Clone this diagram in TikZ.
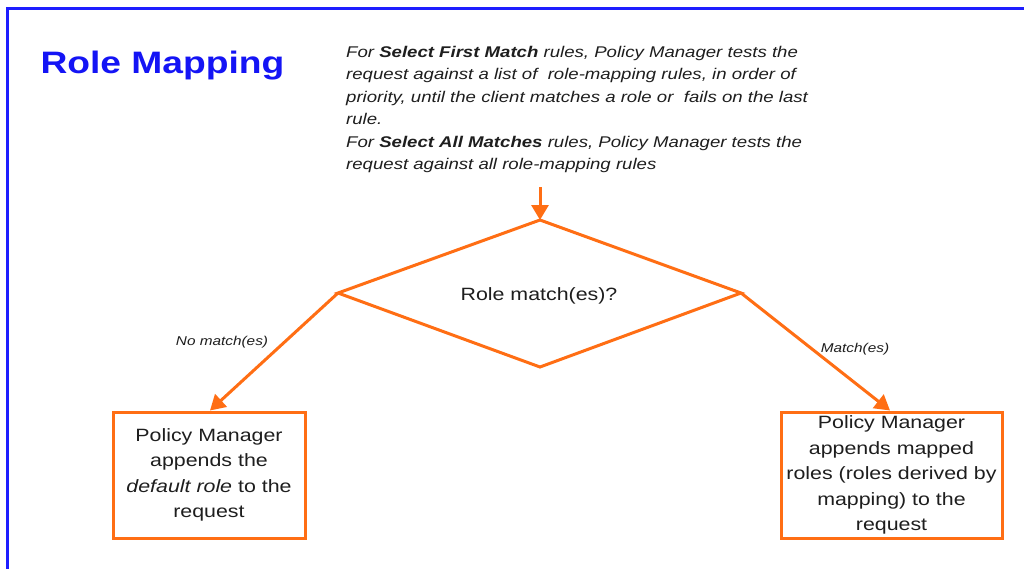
\documentclass[tikz,border=0pt]{standalone}
\usepackage{fontspec}
\setmainfont{Liberation Sans}[FakeStretch=1.2]
\usetikzlibrary{arrows.meta,shapes.geometric}
\definecolor{orng}{RGB}{255,110,20}
\definecolor{frameblue}{RGB}{30,30,255}
\definecolor{titleblue}{RGB}{20,20,245}
\definecolor{txt}{RGB}{30,30,30}
\begin{document}
\begin{tikzpicture}[x=1pt,y=-1pt,
  conn/.style={draw=orng,line width=3pt,-{Triangle[length=15pt,width=17pt]}},
  boxst/.style={draw=orng,line width=3pt,fill=white,minimum width=192pt,minimum height=126pt,align=center,font=\fontsize{17.8}{25.5}\selectfont,text=txt,inner sep=1pt},
  lbl/.style={font=\fontsize{12.8}{15}\selectfont\itshape,text=txt}]
\useasboundingbox (0,0) rectangle (1024,568);
\fill[white] (0,0) rectangle (1024,568);
\draw[frameblue,line width=3pt] (7,600) -- (7,8) -- (1100,8);
\node[anchor=west,font=\fontsize{31}{36}\selectfont\bfseries,text=titleblue] (title) at (37,66) {Role Mapping};
\node[anchor=north west,align=left,font=\fontsize{15.5}{22.4}\selectfont\itshape,text=txt,inner sep=0pt] (desc) at (346,46)
{For \textbf{Select First Match} rules, Policy Manager tests the\\
request against a list of\ \ role-mapping rules, in order of\\
priority, until the client matches a role or\ \ fails on the last\\
rule.\\
For \textbf{Select All Matches} rules, Policy Manager tests the\\
request against all role-mapping rules};
\coordinate (top) at (540,220);
\coordinate (lv) at (338,293);
\coordinate (rv) at (741,293);
\coordinate (bv) at (540,367);
\draw[orng,line width=3pt,line join=miter] (top) -- (rv) -- (bv) -- (lv) -- cycle;
\node[font=\fontsize{17.8}{21}\selectfont,text=txt] (q) at (539,296) {Role match(es)?};
\coordinate (src) at (540,187);
\node[boxst] (left) at (209,475) {Policy Manager\\appends the\\\textit{default role} to the\\request};
\node[boxst,minimum width=221pt] (right) at (891.5,475) {Policy Manager\\appends mapped\\roles (roles derived by\\mapping) to the\\request};
\draw[conn] (src) -- (top);
\draw[conn] (lv) -- (left.north -| 210,0);
\draw[conn] (rv) -- (right.north -| 890,0);
\node[lbl] (nm) at (222,342) {No match(es)};
\node[lbl] (m) at (855,349) {Match(es)};
\end{tikzpicture}
\end{document}
